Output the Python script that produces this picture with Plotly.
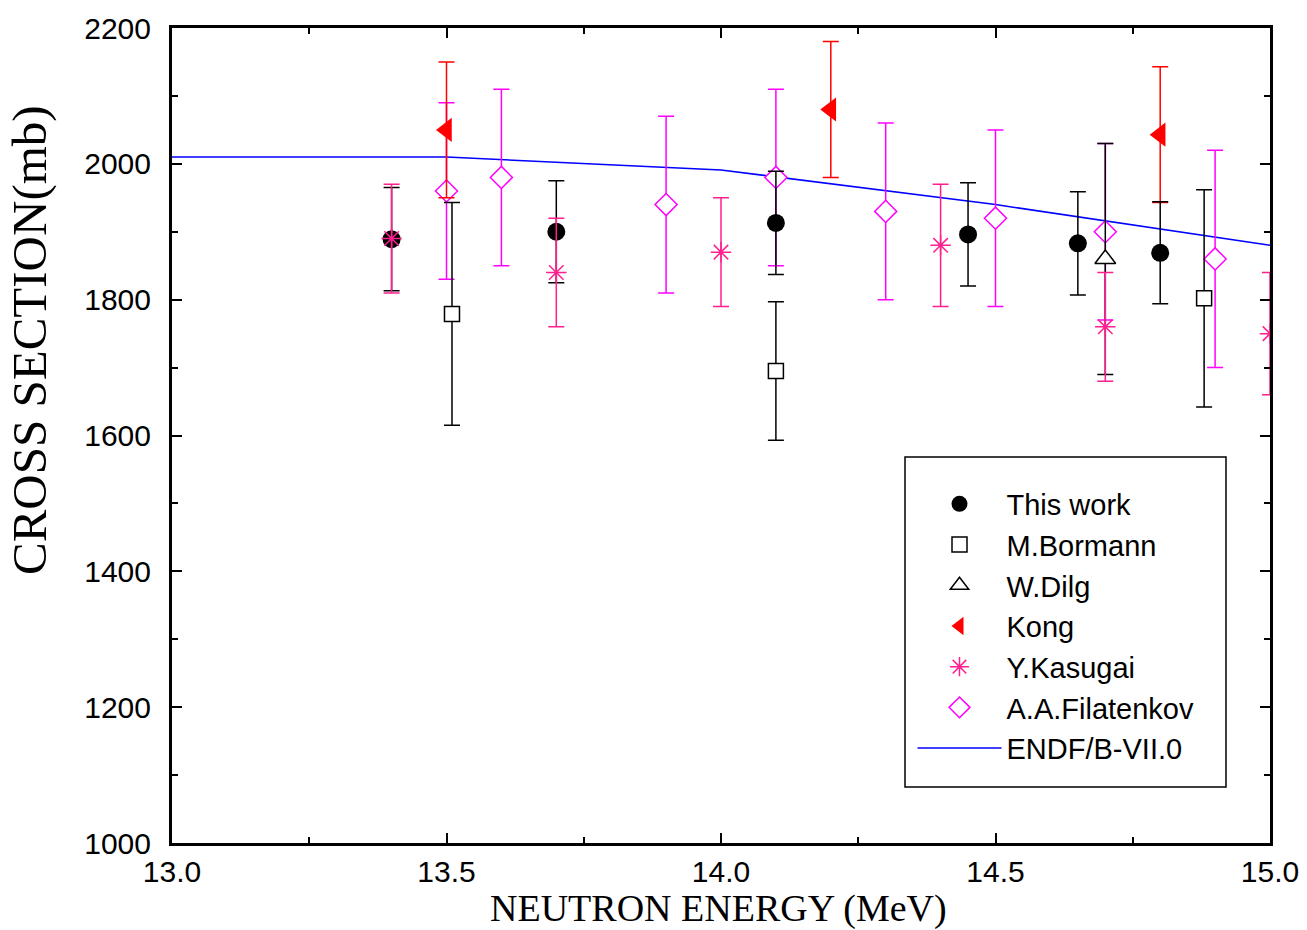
import plotly.graph_objects as go

# ---- data ----
tw_x = [13.4, 13.7, 14.1, 14.45, 14.65, 14.8]
tw_y = [1889, 1900, 1913, 1896, 1883, 1869]
tw_e = [76, 75, 76, 76, 76, 75]

bor_x = [13.51, 14.1, 14.88]
bor_y = [1779, 1695, 1802]
bor_e = [164, 102, 160]

dil_x = [14.7]
dil_y = [1860]
dil_e = [170]

kong_x = [13.5, 14.2, 14.8]
kong_y = [2050, 2080, 2043]
kong_e = [100, 100, 100]

kas_x = [13.4, 13.7, 14.0, 14.4, 14.7, 15.0]
kas_y = [1890, 1840, 1870, 1880, 1760, 1750]
kas_e = [80, 80, 80, 90, 80, 90]

fil_x = [13.5, 13.6, 13.9, 14.1, 14.3, 14.5, 14.7, 14.9]
fil_y = [1960, 1980, 1940, 1980, 1930, 1920, 1900, 1860]
fil_e = [130, 130, 130, 130, 130, 130, 130, 160]

endf_x = [13.0, 13.5, 14.0, 14.5, 15.0]
endf_y = [2010, 2010, 1991, 1940, 1880]

x_ticks = [13.0, 13.5, 14.0, 14.5, 15.0]
y_ticks = [1000, 1200, 1400, 1600, 1800, 2000, 2200]

PINK = "#FF1F8E"
MAG = "#FF00FF"

# plot-area pixel geometry (for placing titles / legend frame)
L, R, T, B = 172, 1270, 28, 843
PW, PH = R - L, B - T

def px_x(p):
    return (p - L) / PW

def px_y(p):
    return (B - p) / PH

def eb(arr, color):
    return dict(type="data", array=arr, visible=True, color=color, thickness=1.5, width=8)

fig = go.Figure()

fig.add_trace(go.Scatter(x=endf_x, y=endf_y, mode="lines", name="ENDF/B-VII.0",
                         line=dict(color="#0000FF", width=1.5), legendrank=7))
fig.add_trace(go.Scatter(x=fil_x, y=fil_y, mode="markers", name="A.A.Filatenkov",
                         marker=dict(symbol="diamond", size=17, color="white",
                                     line=dict(color=MAG, width=1.5)),
                         error_y=eb(fil_e, MAG), legendrank=6))
fig.add_trace(go.Scatter(x=kong_x, y=kong_y, mode="markers", name="Kong",
                         marker=dict(symbol="triangle-left", size=21, color="#FF0000",
                                     line=dict(width=0)),
                         error_y=eb(kong_e, "#FF0000"), legendrank=4))
fig.add_trace(go.Scatter(x=tw_x, y=tw_y, mode="markers", name="This work",
                         marker=dict(symbol="circle", size=18, color="black",
                                     line=dict(width=0)),
                         error_y=eb(tw_e, "black"), legendrank=1))
fig.add_trace(go.Scatter(x=bor_x, y=bor_y, mode="markers", name="M.Bormann",
                         marker=dict(symbol="square", size=15, color="white",
                                     line=dict(color="black", width=1.5)),
                         error_y=eb(bor_e, "black"), legendrank=2))
fig.add_trace(go.Scatter(x=dil_x, y=dil_y, mode="markers", name="W.Dilg",
                         marker=dict(symbol="triangle-up", size=18, color="white",
                                     line=dict(color="black", width=1.5)),
                         error_y=eb(dil_e, "black"), legendrank=3))
fig.add_trace(go.Scatter(x=kas_x, y=kas_y, mode="markers", name="Y.Kasugai",
                         marker=dict(symbol="asterisk-open", size=17, color=PINK,
                                     line=dict(color=PINK, width=1.5)),
                         error_y=eb(kas_e, PINK), legendrank=5))

axis_common = dict(showline=True, linewidth=3, linecolor="black", mirror="allticks",
                   ticks="inside", ticklen=10, tickwidth=2, tickcolor="black",
                   showgrid=False, zeroline=False, automargin=False,
                   tickfont=dict(family="Liberation Sans, Arial", size=30, color="black"))

fig.update_xaxes(range=[13.0, 15.0], tickvals=x_ticks, ticktext=[f"{v:.1f}" for v in x_ticks],
                 ticklabelstandoff=0,
                 minor=dict(ticks="inside", dtick=0.25, tick0=13.0, ticklen=6, tickwidth=2,
                            tickcolor="black", showgrid=False),
                 **axis_common)
fig.update_yaxes(range=[1000, 2200], tickvals=y_ticks,
                 ticklabelstandoff=12,
                 minor=dict(ticks="inside", dtick=100, tick0=1000, ticklen=6, tickwidth=2,
                            tickcolor="black", showgrid=False),
                 **axis_common)

fig.add_annotation(text="CROSS SECTION(mb)", textangle=-90, showarrow=False,
                   xref="paper", yref="paper", x=px_x(29), y=px_y(340),
                   xanchor="center", yanchor="middle",
                   font=dict(family="Liberation Serif, Times New Roman", size=49, color="black"))
fig.add_annotation(text="NEUTRON ENERGY (MeV)", showarrow=False,
                   xref="paper", yref="paper", x=px_x(718), y=px_y(908),
                   xanchor="center", yanchor="middle",
                   font=dict(family="Liberation Serif, Times New Roman", size=38, color="black"))

# legend frame
fig.add_shape(type="rect", xref="paper", yref="paper",
              x0=px_x(905), x1=px_x(1226), y0=px_y(787), y1=px_y(457),
              line=dict(color="black", width=1.5), fillcolor="white", layer="above")

fig.update_layout(
    width=1307, height=930,
    margin=dict(l=L, r=1307 - R, t=T, b=930 - B),
    paper_bgcolor="white", plot_bgcolor="white",
    showlegend=True,
    legend=dict(x=px_x(906.5), y=px_y(459), xanchor="left", yanchor="top",
                bgcolor="rgba(0,0,0,0)", borderwidth=0,
                font=dict(family="Liberation Sans, Arial", size=29, color="black"),
                title=dict(text=" ", font=dict(size=15)),
                itemwidth=84, indentation=6),
)

fig.write_html("out.html")
